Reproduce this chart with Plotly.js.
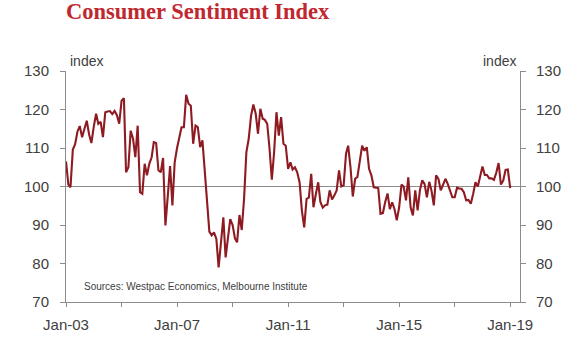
<!DOCTYPE html>
<html>
<head>
<meta charset="utf-8">
<script src="https://cdn.plot.ly/plotly-3.0.1.min.js"></script>
<style>html,body{margin:0;padding:0;background:#fff;}#chart{width:580px;height:352px;}</style>
</head>
<body>
<div id="chart"></div>
<script>
// Monthly index, Jan 2003 .. Jan 2019
var startYear = 2003;
var sentiment = [
  // 2003
  106.5, 100.5, 99.8, 109.6, 111.0, 114.3, 115.7, 112.8, 115.0, 117.1, 113.5, 111.3,
  // 2004
  115.5, 118.9, 116.3, 116.8, 112.8, 119.3, 119.5, 119.6, 118.8, 119.6, 118.5, 116.3,
  // 2005
  122.3, 122.9, 103.7, 105.0, 114.5, 112.4, 107.6, 115.8, 98.5, 98.1, 105.9, 102.9,
  // 2006
  105.9, 107.6, 111.5, 111.3, 104.2, 103.7, 107.4, 89.9, 97.5, 105.3, 95.1, 106.3,
  // 2007
  110.0, 113.0, 115.4, 115.4, 123.8, 121.5, 121.0, 111.1, 115.8, 115.4, 110.2, 112.0,
  // 2008
  104.5, 96.0, 88.3, 87.3, 88.1, 86.4, 79.0, 85.5, 92.0, 81.6, 87.0, 91.5,
  // 2009
  90.0, 86.5, 85.5, 92.6, 88.7, 96.9, 108.9, 112.4, 118.4, 121.3, 118.9, 113.7,
  // 2010
  120.2, 117.6, 117.3, 116.3, 110.0, 101.8, 108.9, 119.3, 113.2, 118.0, 111.1, 110.6,
  // 2011
  104.6, 106.3, 104.4, 105.0, 103.7, 101.1, 93.8, 89.4, 96.8, 97.1, 103.3, 94.6,
  // 2012
  98.0, 101.1, 96.0, 94.5, 95.1, 95.3, 99.0, 96.6, 97.7, 99.0, 104.2, 100.0,
  // 2013
  100.3, 108.5, 110.6, 105.0, 97.4, 102.0, 102.5, 106.8, 110.6, 109.3, 110.2, 104.6,
  // 2014
  102.9, 99.8, 99.7, 99.6, 92.9, 93.1, 95.9, 98.2, 94.1, 95.9, 94.1, 91.2,
  // 2015
  94.6, 100.5, 100.0, 96.4, 102.4, 94.6, 92.5, 99.0, 93.8, 99.0, 101.6, 100.7,
  // 2016
  97.2, 101.2, 99.0, 95.1, 102.9, 102.0, 99.0, 100.3, 102.0, 100.7, 99.0, 97.2,
  // 2017
  97.2, 99.7, 99.5, 99.4, 98.5, 96.4, 96.5, 95.5, 98.1, 101.1, 100.0, 103.0,
  // 2018
  105.2, 103.0, 103.0, 102.1, 102.1, 101.7, 103.5, 106.1, 100.5, 101.5, 104.3, 104.4,
  // 2019
  99.6
];
var tickDates = ['2003-01-01','2005-01-01','2007-01-01','2009-01-01','2011-01-01','2013-01-01','2015-01-01','2017-01-01','2019-01-01'];
var tickLabels = ['Jan-03','','Jan-07','','Jan-11','','Jan-15','','Jan-19'];
var yTicks = [70, 80, 90, 100, 110, 120, 130];

var dates = sentiment.map(function (v, i) {
  var y = startYear + Math.floor(i / 12), m = (i % 12) + 1;
  return y + '-' + (m < 10 ? '0' + m : m) + '-01';
});

var axisGrey = '#8c8c8c';
var tickFont = {family: 'Liberation Sans, Arial, sans-serif', size: 15, color: '#404040'};

var trace = {
  x: dates, y: sentiment, type: 'scatter', mode: 'lines',
  line: {color: '#8e1b22', width: 2.1}, hoverinfo: 'skip', showlegend: false
};
// empty trace that only registers the right-hand axis
var rightAxisHolder = {
  x: [], y: [], type: 'scatter', mode: 'lines', yaxis: 'y2',
  hoverinfo: 'skip', showlegend: false
};

var layout = {
  width: 580, height: 352,
  margin: {l: 66, r: 60, t: 71, b: 50},
  paper_bgcolor: '#ffffff', plot_bgcolor: '#ffffff',
  showlegend: false,
  title: {
    text: '<b>Consumer Sentiment Index</b>',
    font: {family: 'Liberation Serif, Times New Roman, serif', size: 22.5, color: '#c0282f'},
    x: 0, xref: 'paper', xanchor: 'left', y: 0.99, yref: 'container', yanchor: 'top'
  },
  xaxis: {
    type: 'date', range: ['2003-01-01', '2019-05-10'],
    tickmode: 'array', tickvals: tickDates, ticktext: tickLabels,
    showgrid: false, zeroline: false,
    showline: true, linecolor: axisGrey, linewidth: 1,
    ticks: 'outside', ticklen: 4, tickcolor: axisGrey,
    tickfont: tickFont, ticklabelstandoff: 5, fixedrange: true
  },
  yaxis: {
    range: [70, 130], tickmode: 'array', tickvals: yTicks,
    showgrid: false, zeroline: false,
    showline: true, linecolor: axisGrey, linewidth: 1, mirror: false,
    ticks: 'outside', ticklen: 5, tickcolor: axisGrey,
    tickfont: tickFont, ticklabelstandoff: 8, fixedrange: true
  },
  yaxis2: {
    range: [70, 130], tickmode: 'array', tickvals: yTicks,
    overlaying: 'y', side: 'right', anchor: 'x',
    showgrid: false, zeroline: false,
    showline: true, linecolor: axisGrey, linewidth: 1,
    ticks: 'outside', ticklen: 5, tickcolor: axisGrey,
    tickfont: tickFont, ticklabelstandoff: 7, fixedrange: true
  },
  shapes: [{
    type: 'line', xref: 'paper', x0: 0, x1: 1, yref: 'y', y0: 100, y1: 100,
    line: {color: '#8c8c8c', width: 1}, layer: 'below'
  }],
  annotations: [
    {text: 'index', xref: 'paper', yref: 'paper', x: 0.005, y: 1.0, xanchor: 'left', yanchor: 'bottom',
     showarrow: false, font: {family: 'Liberation Sans, Arial, sans-serif', size: 14, color: '#404040'}},
    {text: 'index', xref: 'paper', yref: 'paper', x: 0.995, y: 1.0, xanchor: 'right', yanchor: 'bottom',
     showarrow: false, font: {family: 'Liberation Sans, Arial, sans-serif', size: 14, color: '#404040'}},
    {text: 'Sources: Westpac Economics, Melbourne Institute', xref: 'paper', yref: 'paper',
     x: 0.035, y: 0.035, xanchor: 'left', yanchor: 'bottom', showarrow: false,
     font: {family: 'Liberation Sans, Arial, sans-serif', size: 10, color: '#404040'}}
  ]
};

Plotly.newPlot('chart', [trace, rightAxisHolder], layout, {staticPlot: true, displayModeBar: false});
</script>
</body>
</html>
